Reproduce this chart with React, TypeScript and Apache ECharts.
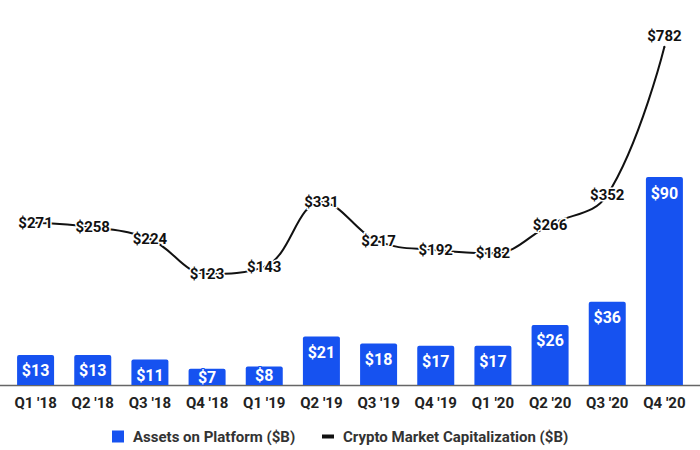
import React, { useEffect, useRef } from "react";
import * as echarts from "echarts";

const categories = ["Q1 '18", "Q2 '18", "Q3 '18", "Q4 '18", "Q1 '19", "Q2 '19", "Q3 '19", "Q4 '19", "Q1 '20", "Q2 '20", "Q3 '20", "Q4 '20"];
const assetsOnPlatform = [13, 13, 11, 7, 8, 21, 18, 17, 17, 26, 36, 90];
const cryptoMarketCap = [271, 258, 224, 123, 143, 331, 217, 192, 182, 266, 352, 782];
const seriesNames = ["Assets on Platform ($B)", "Crypto Market Capitalization ($B)"];

const BLUE = "#1652F0";
const INK = "#111111";
const FONT = "Roboto, 'Noto Sans', sans-serif";

export default function App() {
  const ref = useRef<HTMLDivElement>(null);
  useEffect(() => {
    if (!ref.current) return;
    const chart = echarts.init(ref.current, undefined, { renderer: "svg" });
    const barData = assetsOnPlatform.map((v) =>
      v < 10 ? { value: v, label: { distance: 1 } } : { value: v }
    );
    const lineData = cryptoMarketCap.map((v, i) =>
      i === cryptoMarketCap.length - 1
        ? { value: v, label: { position: "top", distance: 2 } }
        : { value: v }
    );
    const legendText = { fontSize: 15, fontWeight: "bold", color: "#333", fontFamily: FONT, padding: [0, 0, 0, 4] };
    chart.setOption({
      animation: false,
      textStyle: { fontFamily: FONT },
      grid: { left: 7, right: 7, top: 20, bottom: 65, containLabel: false },
      legend: [
        {
          data: [{ name: seriesNames[0], icon: "rect", itemStyle: { color: BLUE } }],
          left: 107,
          top: 424,
          itemWidth: 12,
          itemHeight: 12,
          textStyle: legendText,
        },
        {
          data: [{ name: seriesNames[1], icon: "rect", itemStyle: { color: INK } }],
          left: 317,
          top: 424,
          itemWidth: 12,
          itemHeight: 4,
          textStyle: legendText,
        },
      ],
      xAxis: {
        type: "category",
        data: categories,
        axisLine: { show: false },
        axisTick: { show: false },
        axisLabel: { fontSize: 15, fontWeight: "bold", color: "#222", margin: 10, fontFamily: FONT },
      },
      yAxis: [
        { type: "value", min: 0, max: 158, show: false, splitLine: { show: false } },
        { type: "value", min: -200, max: 860, show: false, splitLine: { show: false } },
      ],
      graphic: [
        {
          type: "line",
          shape: { x1: 0, y1: 385.5, x2: 700, y2: 385.5 },
          style: { stroke: "#666", lineWidth: 1.5 },
          z: 1,
        },
      ],
      series: [
        {
          name: seriesNames[0],
          type: "bar",
          yAxisIndex: 0,
          data: barData,
          barWidth: 37,
          itemStyle: { color: BLUE, borderRadius: [2, 2, 0, 0] },
          label: {
            show: true,
            position: "insideTop",
            distance: 8,
            formatter: (p: any) => "$" + p.value,
            color: "#fff",
            fontSize: 16,
            fontWeight: "bold",
            fontFamily: FONT,
            textBorderColor: BLUE,
            textBorderWidth: 2,
          },
          z: 2,
        },
        {
          name: seriesNames[1],
          type: "line",
          yAxisIndex: 1,
          data: lineData,
          smooth: 0.4,
          symbol: "circle",
          symbolSize: 2,
          showSymbol: true,
          itemStyle: { color: INK },
          lineStyle: { color: INK, width: 2 },
          label: {
            show: true,
            position: "inside",
            formatter: (p: any) => "$" + p.value,
            color: INK,
            fontSize: 15,
            fontWeight: "bold",
            fontFamily: FONT,
            textBorderColor: "#fff",
            textBorderWidth: 3,
          },
          z: 3,
        },
      ],
    });
    return () => chart.dispose();
  }, []);
  return (
    <div
      ref={ref}
      style={{ position: "fixed", left: 0, top: 0, width: 700, height: 450, background: "#fff" }}
    />
  );
}
